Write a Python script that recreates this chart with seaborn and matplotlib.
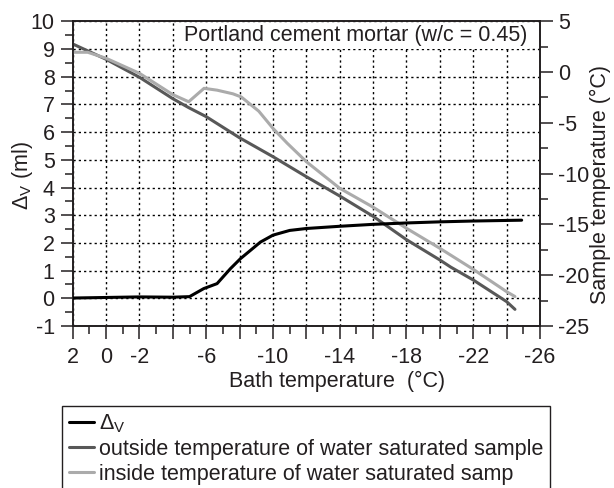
import matplotlib
matplotlib.use("Agg")
import matplotlib.pyplot as plt
import seaborn as sns
import pandas as pd
from matplotlib.ticker import MultipleLocator, FuncFormatter

# ---- data ----
bath_dv = [2, 0, -2, -4, -5.0, -5.85, -6.65, -7.45, -8.05, -8.65, -9.25,
           -10.0, -11.0, -12.0, -14.0, -16.0, -18.0, -20.0, -22.0, -24.9]
dv = [0.01, 0.03, 0.05, 0.04, 0.06, 0.35, 0.53, 1.07, 1.43, 1.73, 2.03,
      2.28, 2.45, 2.52, 2.60, 2.67, 2.72, 2.76, 2.79, 2.82]

bath_out = [2, 0, -2, -4, -4.95, -6, -8, -10, -12, -14, -16, -18, -20,
            -20.65, -22, -24, -24.5]
t_out = [2.77, 1.26, -0.51, -2.62, -3.5, -4.39, -6.47, -8.33, -10.3, -12.2,
         -14.2, -16.5, -18.5, -19.2, -20.47, -22.6, -23.36]

bath_in = [2, 1.1, 0, -2, -4, -4.95, -5.87, -6.65, -7.6, -8.1, -9.15, -10,
           -10.85, -12, -14, -16, -18, -20, -22, -24, -24.5]
t_in = [1.95, 1.95, 1.36, -0.12, -2.22, -2.92, -1.6, -1.78, -2.14, -2.45,
        -3.85, -5.54, -7.0, -8.82, -11.44, -13.3, -15.38, -17.35, -19.42,
        -21.62, -22.1]

x_tick_labels = [2, 0, -2, -6, -10, -14, -18, -22, -26]
series_labels = [r"$\Delta_\mathregular{V}$",
                 "outside temperature of water saturated sample",
                 "inside temperature of water saturated samp"]
title_text = "Portland cement mortar (w/c = 0.45)"

# ---- style ----
sns.set_theme(style="ticks")
plt.rcParams['font.family'] = ['Liberation Sans', 'DejaVu Sans']
plt.rcParams['mathtext.fontset'] = 'custom'
plt.rcParams['mathtext.rm'] = 'Liberation Sans'
plt.rcParams['mathtext.it'] = 'Liberation Sans'
plt.rcParams['mathtext.sf'] = 'Liberation Sans'
plt.rcParams['axes.unicode_minus'] = False
FS = 15.5
TXT = '#231f20'
plt.rcParams['text.color'] = TXT
plt.rcParams['axes.labelcolor'] = TXT
plt.rcParams['xtick.color'] = TXT
plt.rcParams['ytick.color'] = TXT

fig = plt.figure(figsize=(6.14, 4.88), dpi=100)
pos = [72.7 / 614, 1 - 326 / 488, (540 - 72.7) / 614, (326 - 21.3) / 488]
ax1 = fig.add_axes(pos)
ax2 = ax1.twinx()
ax3 = fig.add_axes(pos, sharex=ax1, sharey=ax1)
ax3.axis('off')

df_dv = pd.DataFrame({'bath': bath_dv, 'val': dv})
df_out = pd.DataFrame({'bath': bath_out, 'val': t_out})
df_in = pd.DataFrame({'bath': bath_in, 'val': t_in})

LW = 2.2
sns.lineplot(data=df_out, x='bath', y='val', ax=ax2, color='#585858', lw=LW)
h_out = ax2.lines[-1]
sns.lineplot(data=df_in, x='bath', y='val', ax=ax2, color='#ababab', lw=LW)
h_in = ax2.lines[-1]
sns.lineplot(data=df_dv, x='bath', y='val', ax=ax3, color='black', lw=LW)
h_dv = ax3.lines[-1]

ax1.set_xlim(2, -26)
ax1.set_ylim(-1, 10)
ax2.set_ylim(-25, 5)

ax1.xaxis.set_major_locator(MultipleLocator(2))
ax1.xaxis.set_minor_locator(MultipleLocator(1))
ax1.xaxis.set_major_formatter(FuncFormatter(
    lambda v, p: (f"{int(round(v))}" if int(round(v)) in x_tick_labels else "")))
ax1.yaxis.set_major_locator(MultipleLocator(1))
ax1.yaxis.set_minor_locator(MultipleLocator(0.5))
ax2.yaxis.set_major_locator(MultipleLocator(5))
ax2.yaxis.set_minor_locator(MultipleLocator(2.5))

for ax in (ax1, ax2):
    ax.tick_params(which='major', direction='out', length=9, width=1.1,
                   labelsize=FS, pad=4, color='#231f20')
    ax.tick_params(which='minor', direction='out', length=5.5, width=1.1,
                   color='#231f20')
    for s in ax.spines.values():
        s.set_color('#231f20')
        s.set_linewidth(1.2)
ax1.tick_params(axis='x', which='major', pad=6)

ax1.grid(True, which='major', color='black', linestyle=(0, (1.6, 2.2)),
         linewidth=1.0)

ax1.set_xlabel("Bath temperature  (°C)", fontsize=FS)
ax1.set_ylabel(r"$\Delta_\mathregular{V}$ (ml)", fontsize=FS)
ax2.set_ylabel("Sample temperature (°C)", fontsize=FS)
ax1.xaxis.set_label_coords(0.5656, -0.147)
ax1.yaxis.set_label_coords(-0.081, 0.492)
ax2.yaxis.set_label_coords(1.106, 0.464)

ax1.text(0.972, 0.952, title_text, transform=ax1.transAxes, ha='right',
         va='center', fontsize=FS, zorder=5,
         bbox=dict(boxstyle='square,pad=0.1', facecolor='white',
                   edgecolor='none'))

for ax in (ax1, ax2, ax3):
    lg = ax.get_legend()
    if lg is not None:
        lg.remove()

leg = fig.legend([h_dv, h_out, h_in], series_labels, loc='upper left',
                 bbox_to_anchor=(62.3 / 614, 1 - 405.7 / 488),
                 bbox_transform=fig.transFigure, fontsize=FS, frameon=True,
                 fancybox=False, edgecolor='#231f20', framealpha=1,
                 borderpad=0.3, handlelength=1.15, handletextpad=0.25,
                 labelspacing=0.18, borderaxespad=0)
leg.get_frame().set_linewidth(1.0)

fig.savefig("out.png", dpi=100)
